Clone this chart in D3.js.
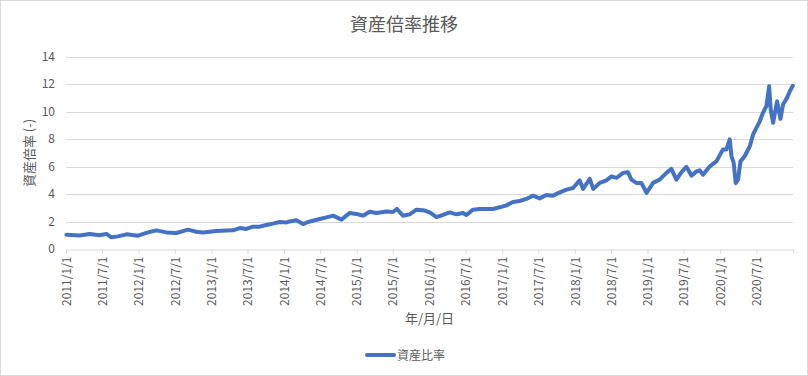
<!DOCTYPE html>
<html>
<head>
<meta charset="utf-8">
<script src="https://cdn.jsdelivr.net/npm/d3@7"></script>
<style>
  html, body { margin: 0; padding: 0; background: #fff; }
  svg text { font-family: "Noto Sans CJK JP", "Liberation Sans", sans-serif; fill: #595959; }
</style>
</head>
<body>
<svg id="chart"></svg>
<script>
// Set dimensions
const width = 808;
const height = 376;
const margin = { top: 57, right: 15, bottom: 127, left: 66 };

// Data
const dates = [
  '2011-01-03', '2011-03-11', '2011-04-30', '2011-06-19', '2011-07-23', '2011-08-17', '2011-09-19',
  '2011-11-01', '2011-12-29', '2012-02-17', '2012-03-30', '2012-05-20', '2012-07-09', '2012-09-05',
  '2012-10-17', '2012-11-19', '2013-01-26', '2013-03-17', '2013-04-19', '2013-05-23', '2013-06-25',
  '2013-07-29', '2013-08-31', '2013-10-04', '2013-11-06', '2013-12-10', '2014-01-13', '2014-01-29',
  '2014-03-04', '2014-04-06', '2014-05-01', '2014-06-29', '2014-08-02', '2014-09-04', '2014-10-16',
  '2014-11-27', '2015-01-07', '2015-02-01', '2015-03-07', '2015-04-10', '2015-05-30', '2015-07-02',
  '2015-07-22', '2015-08-21', '2015-09-24', '2015-10-28', '2015-12-08', '2016-01-03', '2016-02-05',
  '2016-03-09', '2016-04-12', '2016-05-16', '2016-06-18', '2016-07-05', '2016-08-07', '2016-09-10',
  '2016-10-14', '2016-11-16', '2016-12-19', '2017-01-22', '2017-02-24', '2017-03-30', '2017-05-02',
  '2017-06-05', '2017-07-08', '2017-08-11', '2017-09-13', '2017-10-17', '2017-11-20', '2017-12-23',
  '2018-01-25', '2018-02-11', '2018-03-17', '2018-04-03', '2018-05-06', '2018-06-09', '2018-07-04',
  '2018-07-29', '2018-08-31', '2018-09-25', '2018-10-12', '2018-11-06', '2018-12-01', '2018-12-27',
  '2019-01-29', '2019-03-03', '2019-04-06', '2019-05-01', '2019-05-26', '2019-06-20', '2019-07-15',
  '2019-08-10', '2019-09-04', '2019-09-20', '2019-10-07', '2019-11-10', '2019-12-13', '2020-01-15',
  '2020-02-01', '2020-02-18', '2020-02-27', '2020-03-09', '2020-03-19', '2020-03-31', '2020-04-12',
  '2020-05-03', '2020-05-29', '2020-06-14', '2020-07-01', '2020-07-18', '2020-08-03', '2020-08-20',
  '2020-09-03', '2020-09-11', '2020-09-23', '2020-10-13', '2020-10-30', '2020-11-12', '2020-12-02',
  '2020-12-16', '2020-12-31'
];
const ratios = [
  1.04, 0.99, 1.10, 1.00, 1.10, 0.85, 0.92,
  1.07, 0.97, 1.21, 1.36, 1.21, 1.17, 1.41,
  1.26, 1.21, 1.31, 1.34, 1.36, 1.53, 1.46,
  1.63, 1.63, 1.75, 1.85, 1.97, 1.94, 2.01,
  2.10, 1.82, 1.97, 2.19, 2.31, 2.43, 2.14,
  2.63, 2.53, 2.43, 2.72, 2.63, 2.74, 2.70,
  2.92, 2.43, 2.53, 2.87, 2.80, 2.67, 2.33,
  2.48, 2.67, 2.53, 2.63, 2.48, 2.87, 2.92,
  2.92, 2.92, 3.04, 3.18, 3.43, 3.50, 3.65,
  3.89, 3.69, 3.94, 3.89, 4.13, 4.33, 4.45,
  5.01, 4.38, 5.11, 4.38, 4.82, 5.01, 5.30,
  5.18, 5.55, 5.59, 5.06, 4.82, 4.82, 4.09,
  4.82, 5.06, 5.55, 5.84, 5.06, 5.59, 5.99,
  5.35, 5.66, 5.74, 5.42, 6.03, 6.39, 7.25,
  7.25, 8.00, 6.76, 6.28, 4.80, 5.06, 6.39,
  6.76, 7.49, 8.34, 8.83, 9.31, 9.93, 10.40,
  11.87, 10.17, 9.20, 10.77, 9.49, 10.53, 11.02,
  11.50, 11.90
];
const yTicks = [0, 2, 4, 6, 8, 10, 12, 14];

const parseDate = d3.timeParse('%Y-%m-%d');
const formatDate = d3.timeFormat('%Y/%-m/%-d');
const data = dates.map((d, i) => ({ date: parseDate(d), value: ratios[i] }));

// Create SVG
const svg = d3.select('#chart')
  .attr('width', width)
  .attr('height', height);

svg.append('rect')
  .attr('x', 0.5).attr('y', 0.5)
  .attr('width', width - 1).attr('height', height - 1)
  .attr('fill', '#fff')
  .attr('stroke', '#d9d9d9');

// Scales
const x = d3.scaleTime()
  .domain([parseDate('2011-01-01'), parseDate('2021-01-01')])
  .range([margin.left, width - margin.right]);

const y = d3.scaleLinear()
  .domain([0, 14])
  .range([height - margin.bottom, margin.top]);

// Gridlines
svg.append('g')
  .selectAll('line')
  .data(yTicks.filter(d => d > 0))
  .enter()
  .append('line')
  .attr('x1', margin.left)
  .attr('x2', width - margin.right)
  .attr('y1', d => Math.round(y(d)) + 0.5)
  .attr('y2', d => Math.round(y(d)) + 0.5)
  .attr('stroke', '#d9d9d9');

// Y axis labels
svg.append('g')
  .selectAll('text')
  .data(yTicks)
  .enter()
  .append('text')
  .attr('x', 55)
  .attr('y', d => y(d) + 4)
  .attr('text-anchor', 'end')
  .attr('font-size', '12px')
  .text(d => d);

// X axis
const xTicks = d3.timeMonth.every(6).range(parseDate('2011-01-01'), parseDate('2021-01-02'));
const xAxis = svg.append('g')
  .attr('transform', `translate(0,${Math.round(y(0)) + 0.5})`)
  .call(d3.axisBottom(x)
    .tickValues(xTicks)
    .tickSize(4)
    .tickSizeOuter(0)
    .tickFormat(d => d < parseDate('2021-01-01') ? formatDate(d) : ''));

xAxis.select('.domain').attr('stroke', '#d9d9d9');
xAxis.selectAll('.tick line').attr('stroke', '#d9d9d9');
xAxis.selectAll('.tick text')
  .attr('font-size', '12px')
  .attr('fill', '#595959')
  .attr('transform', 'rotate(-90)')
  .attr('text-anchor', 'end')
  .attr('x', -7)
  .attr('y', 0)
  .attr('dy', '0.35em');

// Line
const line = d3.line()
  .x(d => x(d.date))
  .y(d => y(d.value));

svg.append('path')
  .datum(data)
  .attr('fill', 'none')
  .attr('stroke', '#4472c4')
  .attr('stroke-width', 4)
  .attr('stroke-linejoin', 'round')
  .attr('stroke-linecap', 'round')
  .attr('d', line);

// Titles
svg.append('text')
  .attr('x', width / 2)
  .attr('y', 31)
  .attr('text-anchor', 'middle')
  .attr('font-size', '18px')
  .text('資産倍率推移');

svg.append('text')
  .attr('transform', `translate(34,${(margin.top + height - margin.bottom) / 2}) rotate(-90)`)
  .attr('text-anchor', 'middle')
  .attr('font-size', '13px')
  .text('資産倍率 (-)');

svg.append('text')
  .attr('x', (margin.left + width - margin.right) / 2)
  .attr('y', 323)
  .attr('text-anchor', 'middle')
  .attr('font-size', '13px')
  .text('年/月/日');

// Legend
const legend = svg.append('g')
  .attr('transform', 'translate(367,355)');

legend.append('line')
  .attr('x1', 0).attr('x2', 27)
  .attr('y1', 0).attr('y2', 0)
  .attr('stroke', '#4472c4')
  .attr('stroke-width', 4)
  .attr('stroke-linecap', 'round');

legend.append('text')
  .attr('x', 30)
  .attr('y', 4.5)
  .attr('font-size', '12px')
  .text('資産比率');
</script>
</body>
</html>
